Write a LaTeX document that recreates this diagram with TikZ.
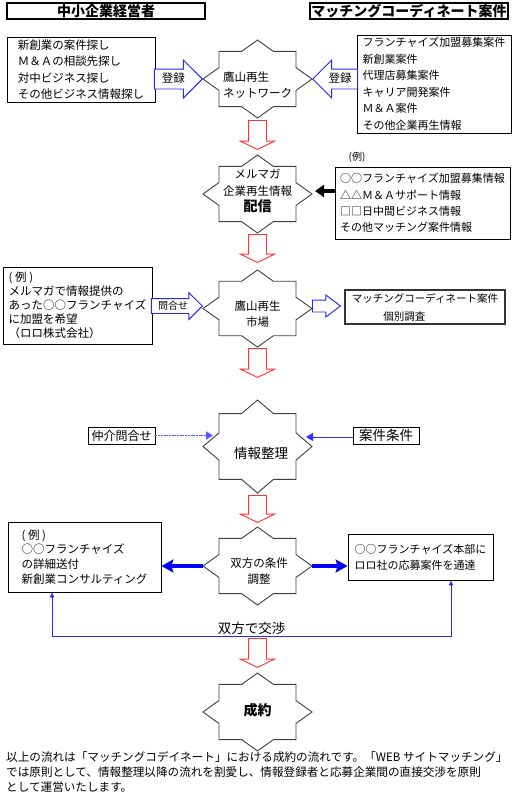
\documentclass[tikz,border=0pt]{standalone}
\usepackage{fontspec}
\setmainfont{Noto Sans CJK JP}
\usetikzlibrary{shapes.arrows,arrows.meta}
\newcommand{\hw}{54.5}
\newcommand{\starborder}[2]{\draw[starline,shift={(#1)},xscale=\hw,yscale=#2] (0:1) \foreach \a in {0,45,...,315}{ -- (\a+22.5:0.765) -- (\a+45:1)} -- cycle;}
\tikzset{
  tx/.style={font=\fontsize{11.5}{16.5}\selectfont},
  txs/.style={font=\fontsize{11}{16.5}\selectfont},
  box/.style={draw, line width=0.8pt, align=left, inner sep=0pt},
  titlebox/.style={draw, line width=1.6pt, inner sep=0pt, minimum width=198pt, minimum height=16pt, font=\fontsize{14}{16}\selectfont\bfseries},
  starline/.style={draw=black!75, line width=0.9pt, fill=white},
  regarrow/.style={single arrow, draw=blue!85, line width=0.9pt, fill=white, single arrow head extend=9pt, text height=8pt, text depth=2pt, inner ysep=4.5pt, inner xsep=1pt, font=\fontsize{11.5}{12}\selectfont},
  downarrow/.style={single arrow, draw=red!80, line width=0.9pt, single arrow tip angle=128, single arrow head extend=8pt, inner ysep=8.5pt, inner xsep=0pt, rotate=-90, anchor=tail},
  thickblue/.style={blue, line width=3.5pt, -{Stealth[length=12pt,width=13pt,inset=2pt]}},
  thinblue/.style={blue!80, line width=1pt, -{Triangle[length=7pt,width=8pt]}}
}
\begin{document}
\begin{tikzpicture}[x=1pt,y=-1pt]
\useasboundingbox (0,0) rectangle (512,798);
%titles
\node[titlebox] (mgr) at (106,11) {中小企業経営者};
\node[titlebox] (mct) at (409,11) {マッチングコーディネート案件};
%star centres and tips
\coordinate (c1) at (257.5,79);
\coordinate (c1w) at (203,79);
\coordinate (c1e) at (312,79);
\coordinate (c2) at (257.5,194);
\coordinate (c2e) at (312,191);
\coordinate (c3) at (257.5,308.5);
\coordinate (c3w) at (203,306);
\coordinate (c3e) at (312,306);
\coordinate (c4) at (257.5,446.5);
\coordinate (c4a) at (213,435.5);
\coordinate (c4b) at (306,437);
\coordinate (c5) at (257.5,566);
\coordinate (c5w) at (203,566);
\coordinate (c5e) at (312,566);
\coordinate (c6) at (257.5,712);
%stars
\starborder{c1}{39}
\starborder{c2}{39}
\starborder{c3}{38.5}
\starborder{c4}{46.5}
\starborder{c5}{39}
\starborder{c6}{39}
\node[tx, align=left] (s1) at (257.5,85) {鷹山再生\\ネットワーク};
\node[tx, align=center] (s2) at (257.5,191) {メルマガ\\企業再生情報\\{\fontsize{14}{16}\selectfont\bfseries 配信}};
\node[tx, align=center] (s3) at (257.5,314) {鷹山再生\\市場};
\node[font=\fontsize{13.5}{16}\selectfont] (s4) at (261,453) {情報整理};
\node[tx, align=center] (s5) at (259,571) {双方の条件\\調整};
\node[font=\fontsize{14}{16}\selectfont\bfseries] (s6) at (257.5,710) {成約};
%step 1
\node[box, tx, minimum width=148pt, minimum height=65pt] (needs) at (81,69.5) {新創業の案件探し\\Ｍ＆Ａの相談先探し\\対中ビジネス探し\\その他ビジネス情報探し};
\node[box, txs, minimum width=154pt, minimum height=98pt] (seeds) at (434,84) {フランチャイズ加盟募集案件\\新創業案件\\代理店募集案件\\キャリア開発案件\\Ｍ＆Ａ案件\\その他企業再生情報};
\node[regarrow, minimum height=48pt, anchor=tip] (reg1) at (c1w) {登録};
\node[regarrow, minimum height=45pt, shape border rotate=180, anchor=tip] (reg2) at (c1e) {登録};
\node[downarrow, minimum height=29pt] (d1) at (257.5,120) {};
%step 2
\node[font=\fontsize{10}{12}\selectfont] (exlbl) at (357,157) {(例)};
\node[box, font=\fontsize{11}{16.3}\selectfont, minimum width=175pt, minimum height=72pt] (ex2) at (422.5,203) {○○フランチャイズ加盟募集情報\\△△Ｍ＆Ａサポート情報\\□□日中間ビジネス情報\\その他マッチング案件情報};
\draw[line width=4pt, shorten >=3pt, -{Triangle[length=9pt,width=12pt]}] (ex2.west |- c2e) -- (c2e);
\node[downarrow, minimum height=28pt] (d2) at (257.5,234) {};
%step 3
\node[box, font=\fontsize{11.5}{14}\selectfont, minimum width=149pt, minimum height=77pt] (inq) at (77.5,305.5) {( 例 )\\メルマガで情報提供の\\あった○○フランチャイズ\\に加盟を希望\\（ロロ株式会社）};
\node[regarrow, font=\fontsize{10}{12}\selectfont, text height=7.5pt, text depth=1.5pt, inner ysep=2.5pt, single arrow head extend=6pt, minimum height=51pt, anchor=tip] (ask) at (c3w) {問合せ};
\node[single arrow, draw=blue!85, line width=0.9pt, single arrow tip angle=74, single arrow head extend=5pt, inner ysep=5.5pt, inner xsep=0pt, minimum height=28pt, anchor=tail] (go) at (c3e) {};
\node[box, draw=black!80, line width=1.1pt, font=\fontsize{10.5}{18}\selectfont, minimum width=160pt, minimum height=34pt] (study) at (425,307) {マッチングコーディネート案件\\\hspace{3em}個別調査};
\node[downarrow, minimum height=29pt] (d3) at (257.5,348) {};
%step 4
\node[box, font=\fontsize{12}{14}\selectfont, minimum width=67pt, minimum height=17pt] (med) at (121.5,435.5) {仲介問合せ};
\node[box, font=\fontsize{13.5}{14}\selectfont, minimum width=66pt, minimum height=17pt] (cond) at (386,435.5) {案件条件};
\draw[thinblue, blue!65, dash pattern=on 2pt off 0.7pt, line width=1.8pt] (med.east) -- (c4a);
\draw[thinblue] (cond.west |- c4b) -- (c4b);
\node[downarrow, minimum height=27pt] (d4) at (257.5,495) {};
%step 5
\node[box, font=\fontsize{11.5}{14.7}\selectfont, minimum width=153pt, minimum height=70pt] (detail) at (84.5,557) {( 例 )\\○○フランチャイズ\\の詳細送付\\新創業コンサルティング};
\node[box, font=\fontsize{11}{16}\selectfont, minimum width=145pt, minimum height=46pt] (notice) at (420.5,557) {○○フランチャイズ本部に\\ロロ社の応募案件を通達};
\draw[thickblue] (c5w) -- (c5w -| detail.east);
\draw[thickblue] (c5e) -- (c5e -| notice.west);
\coordinate (nl) at (52,636);
\coordinate (nr) at (451,636);
\draw[blue!85, line width=0.8pt, {Latex[length=5pt,width=5pt]}-{Latex[length=5pt,width=5pt]}] (detail.south -| nl) -- (nl) -- node[above, inner sep=1pt, font=\fontsize{13.5}{14}\selectfont, text=black] (deal) {双方で交渉} (nr) -- (notice.south -| nr);
\node[downarrow, minimum height=29pt] (d5) at (257.5,638) {};
%note
\node[anchor=north west, inner sep=0pt, align=left, font=\fontsize{11.6}{15}\selectfont] (note) at (6,751) {以上の流れは「マッチングコデイネート」における成約の流れです。「WEB サイトマッチング」\\では原則として、情報整理以降の流れを割愛し、情報登録者と応募企業間の直接交渉を原則\\として運営いたします。};
\end{tikzpicture}
\end{document}
